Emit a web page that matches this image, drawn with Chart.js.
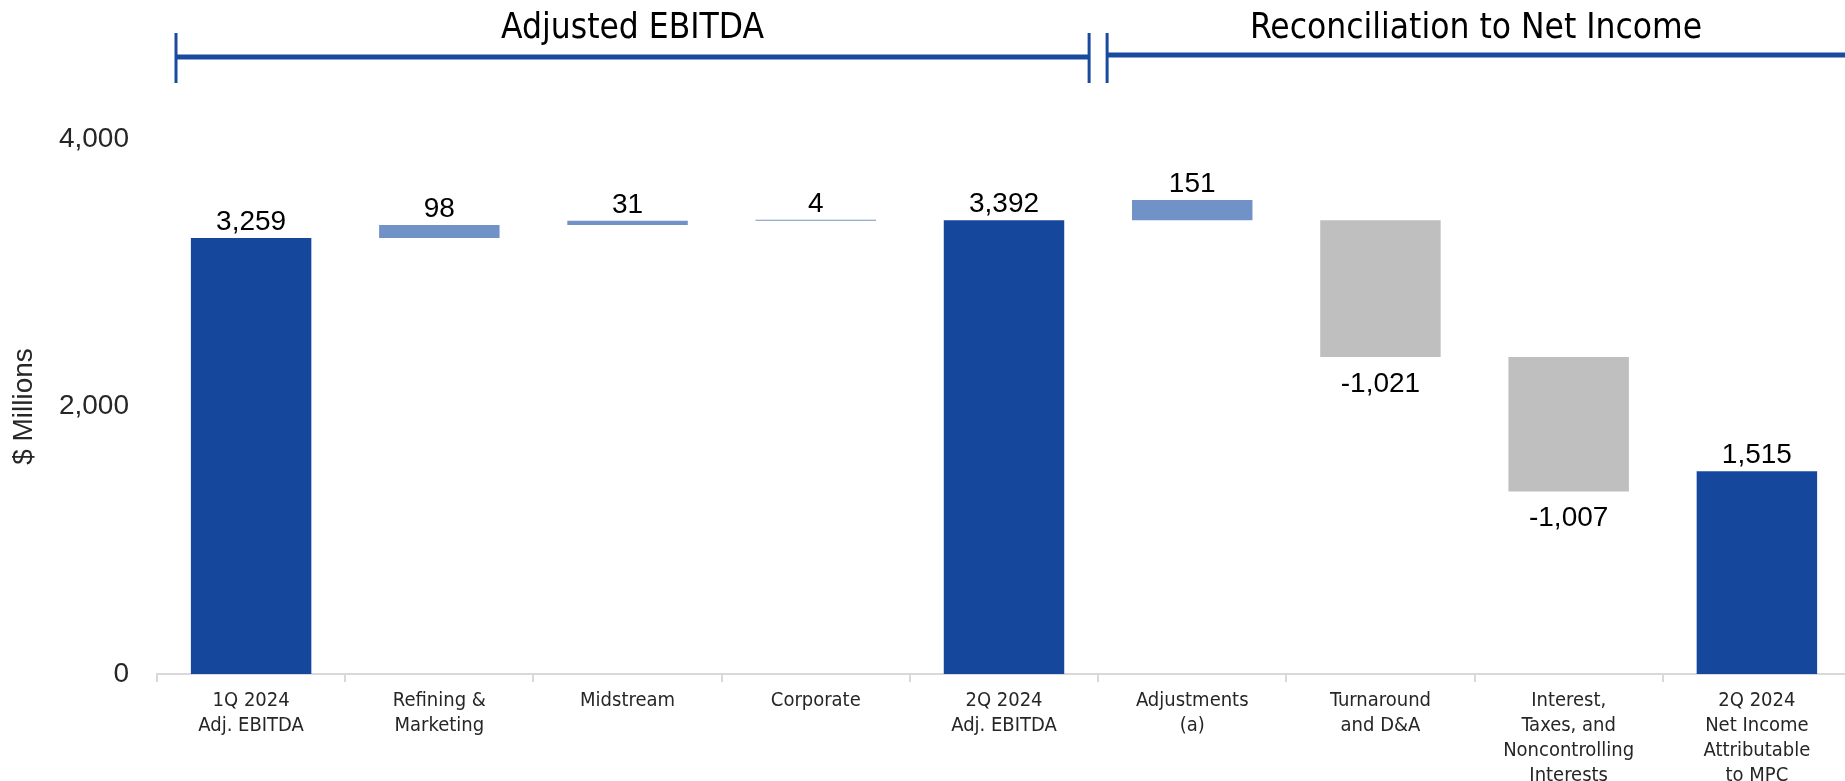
<!DOCTYPE html>
<html>
<head>
<meta charset="utf-8">
<title>Adjusted EBITDA to Net Income</title>
<script src="https://cdn.jsdelivr.net/npm/chart.js@4"></script>
<style>
  html, body { margin: 0; padding: 0; background: #fff; overflow: hidden; }
  #wrap { width: 1851px; height: 781px; position: relative; }
</style>
</head>
<body>
<div id="wrap"><canvas id="bridgeChart"></canvas></div>
<script>
// Bridge data, $ millions
const categories = [
  ['1Q 2024', 'Adj. EBITDA'],
  ['Refining &', 'Marketing'],
  ['Midstream'],
  ['Corporate'],
  ['2Q 2024', 'Adj. EBITDA'],
  ['Adjustments', '(a)'],
  ['Turnaround', 'and D&A'],
  ['Interest,', 'Taxes, and', 'Noncontrolling', 'Interests'],
  ['2Q 2024', 'Net Income', 'Attributable', 'to MPC']
];
const stepValues = [3259, 98, 31, 4, 3392, 151, -1021, -1007, 1515];
const stepBases = [0, 3259, 3357, 3388, 0, 3392, 3392, 2371, 0];
const stepKinds = ['total', 'up', 'up', 'up', 'total', 'up', 'down', 'down', 'total'];
const yTicks = [0, 2000, 4000];
const sections = ['Adjusted EBITDA', 'Reconciliation to Net Income'];

const COLORS = { total: '#15489C', up: '#7092C6', down: '#BFBFBF' };
const NUM_FONT = '"Liberation Sans", Arial, sans-serif';
const NARROW_FONT = '"Liberation Sans Narrow", "Arial Narrow", "DejaVu Sans Condensed", sans-serif';
const BRACKET_COLOR = '#1A4A9F';
const VIEW_WIDTH = 1845;

const fmt = v => v.toLocaleString('en-US');

// value labels above rising bars, below falling bars
const valueLabels = {
  id: 'valueLabels',
  afterDatasetsDraw(chart) {
    const { ctx } = chart;
    const meta = chart.getDatasetMeta(0);
    ctx.save();
    ctx.font = '28px ' + NUM_FONT;
    ctx.fillStyle = '#000';
    ctx.textAlign = 'center';
    ctx.textBaseline = 'middle';
    meta.data.forEach((bar, i) => {
      const v = stepValues[i];
      const top = Math.min(bar.y, bar.base);
      const bottom = Math.max(bar.y, bar.base);
      if (v >= 0) ctx.fillText(fmt(v), bar.x, top - 16);
      else ctx.fillText(fmt(v), bar.x, bottom + 27);
    });
    ctx.restore();
  }
};

// section headers with bracket lines
const sectionHeaders = {
  id: 'sectionHeaders',
  afterDraw(chart) {
    const { ctx, chartArea } = chart;
    const x = chart.scales.x;
    const split = (x.getPixelForValue(4) + x.getPixelForValue(5)) / 2;
    const leftStart = chartArea.left + 19;
    const rightEnd = VIEW_WIDTH;
    const gap = 9;

    ctx.save();
    ctx.strokeStyle = BRACKET_COLOR;
    ctx.lineCap = 'butt';
    ctx.lineWidth = 3;
    [leftStart, split - gap, split + gap].forEach(px => {
      ctx.beginPath();
      ctx.moveTo(px, 33);
      ctx.lineTo(px, 83);
      ctx.stroke();
    });
    ctx.lineWidth = 5;
    ctx.beginPath();
    ctx.moveTo(leftStart, 57);
    ctx.lineTo(split - gap, 57);
    ctx.stroke();
    ctx.beginPath();
    ctx.moveTo(split + gap, 55);
    ctx.lineTo(chart.width, 55);
    ctx.stroke();

    ctx.font = '35px ' + NARROW_FONT;
    ctx.fillStyle = '#000';
    ctx.textAlign = 'center';
    ctx.textBaseline = 'middle';
    ctx.fillText(sections[0], (leftStart + split - gap) / 2, 29);
    ctx.fillText(sections[1], (split + gap + rightEnd) / 2, 29);
    ctx.restore();
  }
};

new Chart(document.getElementById('bridgeChart'), {
  type: 'bar',
  data: {
    labels: categories,
    datasets: [{
      data: stepValues.map((v, i) => [stepBases[i], stepBases[i] + v]),
      backgroundColor: stepKinds.map(k => COLORS[k]),
      borderWidth: 0,
      borderSkipped: false,
      minBarLength: 1,
      barPercentage: 0.8,
      categoryPercentage: 0.8
    }]
  },
  options: {
    responsive: true,
    maintainAspectRatio: false,
    animation: false,
    layout: { padding: { top: 139, left: 0, right: 0, bottom: 0 } },
    plugins: { legend: { display: false }, tooltip: { enabled: false } },
    scales: {
      x: {
        grid: { display: true, drawOnChartArea: false, drawTicks: true, tickLength: 8, offset: true, color: '#D9D9D9', lineWidth: 2 },
        border: { color: '#D9D9D9', width: 2 },
        ticks: { font: { family: NARROW_FONT, size: 20, lineHeight: 1.25 }, color: '#262626', padding: 6, maxRotation: 0, autoSkip: false },
        afterFit: s => { s.height = 107; }
      },
      y: {
        min: 0,
        max: 4000,
        afterBuildTicks: s => { s.ticks = yTicks.map(v => ({ value: v })); },
        grid: { display: false, drawTicks: false },
        border: { display: false },
        ticks: { font: { family: NUM_FONT, size: 28 }, color: '#262626', padding: 28, callback: v => fmt(v) },
        title: { display: true, text: '$ Millions', font: { family: NUM_FONT, size: 28 }, color: '#262626', padding: { top: 7, bottom: 0 } },
        afterFit: s => { s.width = 157; }
      }
    }
  },
  plugins: [valueLabels, sectionHeaders]
});
</script>
</body>
</html>
